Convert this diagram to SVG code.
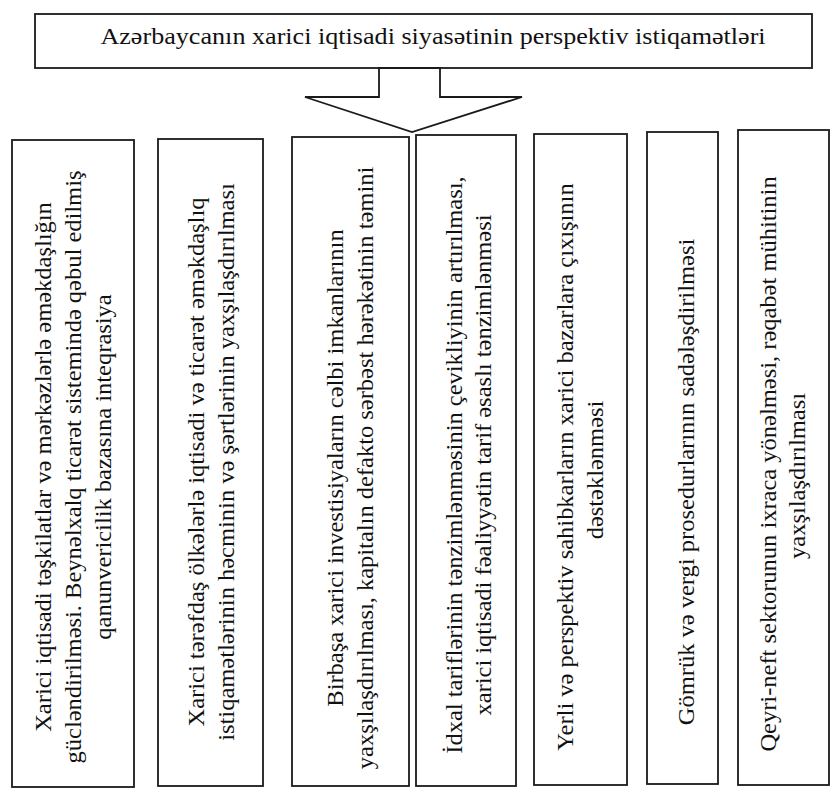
<svg xmlns="http://www.w3.org/2000/svg" width="832" height="793" viewBox="0 0 832 793">
<style>
.box{fill:#fff;stroke:#1a1a1a;stroke-width:1.8}
.t{font-family:"Liberation Serif","Times New Roman",serif;font-size:23px;fill:#111;text-anchor:middle}
.v{font-family:"Liberation Serif","Times New Roman",serif;font-size:23px;fill:#111;text-anchor:middle}
</style>
<rect width="832" height="793" fill="#fff"/>
<g id="title">
<rect class="box" x="35" y="14" width="777" height="54"/>
<text class="t" transform="translate(433,44) scale(1.136,1)">Azərbaycanın xarici iqtisadi siyasətinin perspektiv istiqamətləri</text>
</g>
<g id="connectors">
<polygon class="box" points="379,68 379,97 305,97 412,132 522,97 440,97 440,68"/>
</g>
<g id="n1">
<rect class="box" x="12" y="140" width="122" height="647"/>
<text class="v" transform="translate(51,467) rotate(-90) scale(1.065,1)">Xarici iqtisadi təşkilatlar və mərkəzlərlə əməkdaşlığın</text>
<text class="v" transform="translate(81,467) rotate(-90) scale(1.065,1)">gücləndirilməsi. Beynəlxalq ticarət sistemində qəbul edilmiş</text>
<text class="v" transform="translate(111,467) rotate(-90) scale(1.065,1)">qanunvericilik bazasına inteqrasiya</text>
</g>
<g id="n2">
<rect class="box" x="158" y="139" width="105" height="647"/>
<text class="v" transform="translate(204,462) rotate(-90) scale(1.065,1)">Xarici tərəfdaş ölkələrlə iqtisadi və ticarət əməkdaşlıq</text>
<text class="v" transform="translate(234,462) rotate(-90) scale(1.065,1)">istiqamətlərinin həcminin və şərtlərinin yaxşılaşdırılması</text>
</g>
<g id="n3">
<rect class="box" x="292" y="137" width="117" height="649"/>
<text class="v" transform="translate(343,468) rotate(-90) scale(1.065,1)">Birbaşa xarici investisiyaların cəlbi imkanlarının</text>
<text class="v" transform="translate(373,468) rotate(-90) scale(1.065,1)">yaxşılaşdırılması, kapitalın defakto sərbəst hərəkətinin təmini</text>
</g>
<g id="n4">
<rect class="box" x="416" y="135" width="100" height="651"/>
<text class="v" transform="translate(462,465) rotate(-90) scale(1.065,1)">İdxal tariflərinin tənzimlənməsinin çevikliyinin artırılması,</text>
<text class="v" transform="translate(491,465) rotate(-90) scale(1.065,1)">xarici iqtisadi fəaliyyətin tarif əsaslı tənzimlənməsi</text>
</g>
<g id="n5">
<rect class="box" x="534" y="134" width="93" height="651"/>
<text class="v" transform="translate(573,467) rotate(-90) scale(1.065,1)">Yerli və perspektiv sahibkarların xarici bazarlara çıxışının</text>
<text class="v" transform="translate(603,470) rotate(-90) scale(1.065,1)">dəstəklənməsi</text>
</g>
<g id="n6">
<rect class="box" x="647" y="132" width="71" height="652"/>
<text class="v" transform="translate(694,482) rotate(-90) scale(1.065,1)">Gömrük və vergi prosedurlarının sadələşdirilməsi</text>
</g>
<g id="n7">
<rect class="box" x="738" y="130" width="91" height="655"/>
<text class="v" transform="translate(776,464) rotate(-90) scale(1.065,1)">Qeyri-neft sektorunun ixraca yönəlməsi, rəqabət mühitinin</text>
<text class="v" transform="translate(805,476) rotate(-90) scale(1.065,1)">yaxşılaşdırılması</text>
</g>
</svg>
